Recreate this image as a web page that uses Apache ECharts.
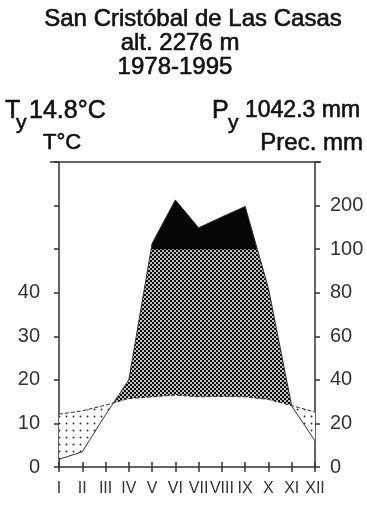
<!DOCTYPE html>
<html>
<head>
<meta charset="utf-8">
<script src="https://cdn.jsdelivr.net/npm/echarts@6/dist/echarts.min.js"></script>
<style>
  html, body { margin: 0; padding: 0; background: #fff; }
  #chart { width: 367px; height: 506px; }
</style>
</head>
<body>
<div id="chart"></div>
<script>
// Monthly climate normals, San Cristóbal de Las Casas (1978-1995)
const months = ['I', 'II', 'III', 'IV', 'V', 'VI', 'VII', 'VIII', 'IX', 'X', 'XI', 'XII'];
const tempC = [12.1, 12.9, 14.2, 15.7, 16.1, 16.5, 16.1, 16.2, 16.1, 15.5, 14.1, 12.6];
const precMm = [3.5, 7, 24, 40, 113, 213, 149, 174, 198, 82, 28, 12];
const tempTickLabels = [0, 10, 20, 30, 40];
const precTickLabels = [0, 20, 40, 60, 80, 100, 200];

// Walter-Lieth scale: 10 °C = 20 mm up to 100 mm, then 100 mm per step
function precToScale(p) {
  return p <= 100 ? p / 2 : 50 + (p - 100) / 10;
}

function makePattern(size, bg, dot, spots, r) {
  const c = document.createElement('canvas');
  c.width = size; c.height = size;
  const g = c.getContext('2d');
  g.fillStyle = bg; g.fillRect(0, 0, size, size);
  g.fillStyle = dot;
  spots.forEach(([x, y]) => { g.beginPath(); g.arc(x, y, r, 0, Math.PI * 2); g.fill(); });
  return { image: c, repeat: 'repeat' };
}
const dryFill = makePattern(7, '#ffffff', '#333333', [[3.5, 3.5]], 1.0);
const wetFill = makePattern(4, '#0a0a0a', '#ffffff', [[1, 1], [3, 3]], 1.0);

// Regions where curve `top` lies above curve `bot` (pixel points), split at crossings
function bands(top, bot) {
  const polys = [];
  let up = [], low = [];
  for (let i = 0; i < top.length; i++) {
    const d = bot[i][1] - top[i][1];
    if (i > 0) {
      const dp = bot[i - 1][1] - top[i - 1][1];
      if ((dp > 0) !== (d > 0)) {
        const f = dp / (dp - d);
        const x = top[i - 1][0] + f * (top[i][0] - top[i - 1][0]);
        const y = top[i - 1][1] + f * (top[i][1] - top[i - 1][1]);
        up.push([x, y]); low.push([x, y]);
        if (dp > 0) { polys.push(up.concat(low.slice().reverse())); up = []; low = []; }
      }
    }
    if (d > 0) { up.push(top[i]); low.push(bot[i]); }
  }
  if (up.length) polys.push(up.concat(low.slice().reverse()));
  return polys;
}

const precScaled = precMm.map(precToScale);
const axisColor = '#333';
const labelFont = "'Liberation Sans', Arial, sans-serif";
const headFont = "'Liberation Sans', Arial, sans-serif";

const chart = echarts.init(document.getElementById('chart'), null, { renderer: 'canvas' });

const yCommon = {
  type: 'value', min: 0, max: 70, interval: 10,
  splitLine: { show: false },
  axisLine: { show: true, lineStyle: { color: axisColor, width: 1.5 } },
  axisTick: { show: true, length: 5, lineStyle: { color: axisColor, width: 1.5 } },
};

chart.setOption({
  animation: false,
  backgroundColor: '#fff',
  grid: { left: 59, right: 52, top: 162, bottom: 39 },
  xAxis: [
    {
      type: 'category', data: months, boundaryGap: false,
      axisLine: { lineStyle: { color: axisColor, width: 1.5 } },
      axisTick: { length: 5, interval: 0, lineStyle: { color: axisColor, width: 1.5 } },
      axisLabel: { interval: 0, margin: 14, color: '#333', fontSize: 16,
        fontFamily: "'Liberation Sans Narrow', 'Liberation Sans', sans-serif" },
    },
    {
      type: 'category', data: months, boundaryGap: false, position: 'bottom',
      axisLine: { show: false },
      axisTick: { inside: true, length: 5, interval: 0, lineStyle: { color: axisColor, width: 1.5 } },
      axisLabel: { show: false },
    },
  ],
  yAxis: [
    Object.assign({}, yCommon, {
      position: 'left',
      axisLabel: { margin: 19, color: '#333', fontSize: 20, fontFamily: labelFont,
        formatter: v => (tempTickLabels.indexOf(v) >= 0 ? String(v) : '') },
    }),
    Object.assign({}, yCommon, {
      position: 'right',
      axisLabel: { margin: 15, color: '#333', fontSize: 20, fontFamily: labelFont,
        formatter: v => (precTickLabels[v / 10] !== undefined ? String(precTickLabels[v / 10]) : '') },
    }),
    Object.assign({}, yCommon, { position: 'left', axisLine: { show: false },
      axisTick: { inside: true, length: 5, lineStyle: { color: axisColor, width: 1.5 } }, axisLabel: { show: false } }),
    Object.assign({}, yCommon, { position: 'right', axisLine: { show: false },
      axisTick: { inside: true, length: 5, lineStyle: { color: axisColor, width: 1.5 } }, axisLabel: { show: false } }),
  ],
  series: [
    {
      type: 'custom', name: 'areas', z: 1, silent: true,
      data: [[0, 0]],
      renderItem: function (params, api) {
        const T = tempC.map((v, i) => api.coord([i, v]));
        const P = precScaled.map((v, i) => api.coord([i, v]));
        const cap = months.map((m, i) => api.coord([i, 50]));
        const children = [];
        bands(T, P).forEach(pts => children.push({ type: 'polygon', shape: { points: pts }, style: { fill: dryFill } }));
        bands(P, T).forEach(pts => children.push({ type: 'polygon', shape: { points: pts }, style: { fill: wetFill } }));
        bands(P, cap).forEach(pts => children.push({ type: 'polygon', shape: { points: pts }, style: { fill: '#050505' } }));
        return { type: 'group', children: children };
      },
    },
    {
      type: 'line', name: 'T', data: tempC, z: 3, symbol: 'none', silent: true,
      lineStyle: { color: '#333', width: 1, type: [4, 2] },
    },
    {
      type: 'line', name: 'P', data: precScaled, z: 3, symbol: 'none', silent: true,
      lineStyle: { color: '#333', width: 1 },
    },
  ],
});

// Top frame line and header texts
const yTop = chart.convertToPixel({ yAxisIndex: 0 }, 70);
const xLeft = chart.convertToPixel({ xAxisIndex: 0 }, 0);
const xRight = chart.convertToPixel({ xAxisIndex: 0 }, months.length - 1);
function txt(x, y, text, size, align) {
  return { type: 'text', x: x, y: y, style: { text: text, fill: '#111', stroke: '#111', lineWidth: 0.6,
    font: size + 'px ' + headFont, textAlign: align || 'left', textVerticalAlign: 'middle' } };
}
chart.setOption({
  graphic: [
    { type: 'line', shape: { x1: xLeft - 9, y1: yTop, x2: xRight + 6, y2: yTop },
      style: { stroke: axisColor, lineWidth: 1.5 } },
    txt(193, 19, 'San Cristóbal de Las Casas', 24, 'center'),
    txt(180, 43, 'alt. 2276 m', 24, 'center'),
    txt(175, 67, '1978-1995', 24, 'center'),
    txt(5, 111, 'T', 25),
    txt(16, 123, 'y', 21),
    txt(29, 111, '14.8°C', 25),
    txt(212, 111, 'P', 25),
    txt(228, 123, 'y', 21),
    txt(245, 111, '1042.3 mm', 23),
    txt(43, 143, 'T°C', 22),
    txt(363, 143, 'Prec. mm', 24, 'right'),
  ],
});
</script>
</body>
</html>
